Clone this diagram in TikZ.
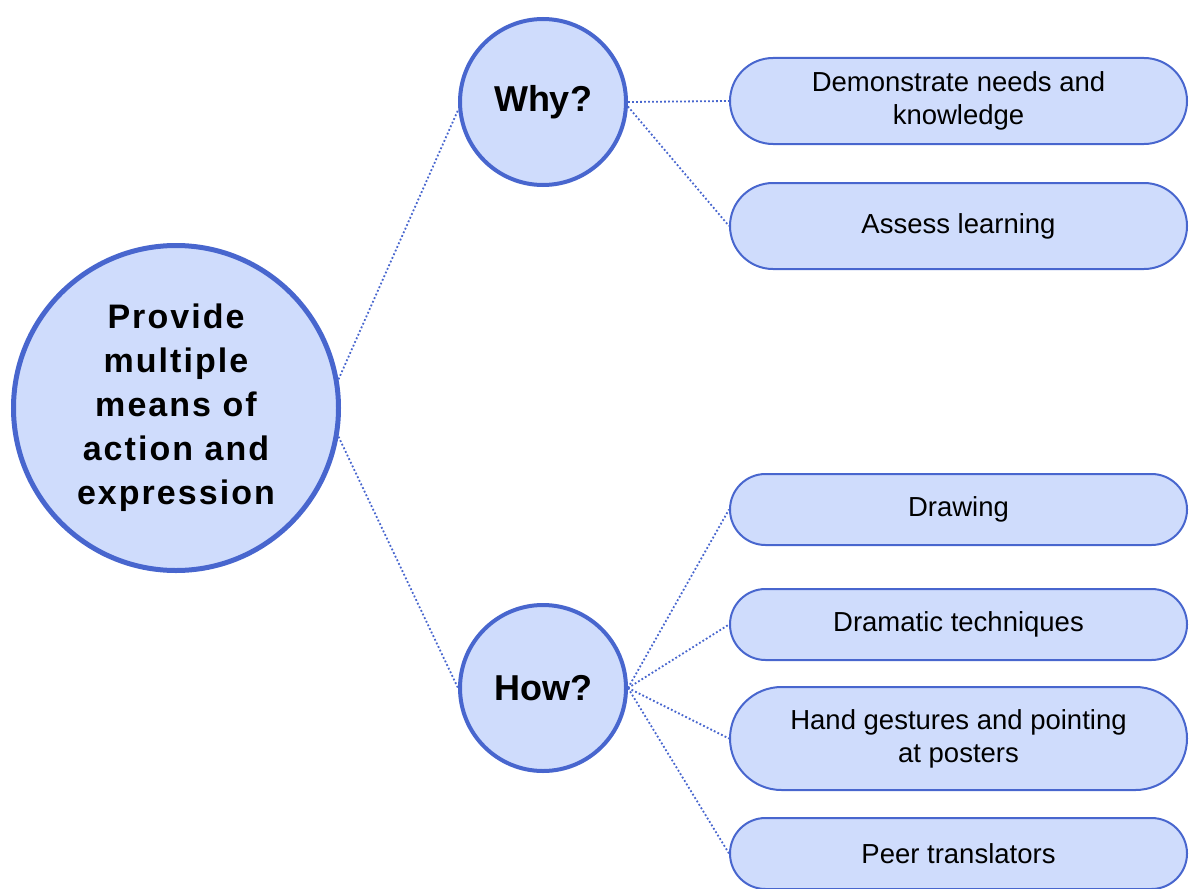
\documentclass[tikz,border=0pt]{standalone}
\usepackage{fontspec}
\setmainfont{Liberation Sans}
\newfontfamily\spacedbold[LetterSpace=6]{Liberation Sans}
\usetikzlibrary{shapes.misc}
\definecolor{fillblue}{RGB}{207,220,252}
\definecolor{edgeblue}{RGB}{72,102,206}
\tikzset{
  bigcirc/.style={circle, draw=edgeblue, fill=fillblue, line width=5pt, minimum size=325pt, inner sep=0pt, align=center,
    font=\spacedbold\bfseries\fontsize{34}{44}\selectfont},
  qcirc/.style={circle, draw=edgeblue, fill=fillblue, line width=4pt, minimum size=166pt, inner sep=0pt,
    font=\bfseries\fontsize{36}{42}\selectfont},
  pill/.style={rounded rectangle, draw=edgeblue, fill=fillblue, line width=2pt, minimum width=457pt, inner sep=0pt, align=center,
    font=\fontsize{27.5}{33}\selectfont},
  link/.style={draw=edgeblue, line width=1.8pt, dash pattern=on 1.8pt off 2.2pt}
}
\begin{document}
\begin{tikzpicture}[x=1pt,y=-1pt]
\useasboundingbox (0,0) rectangle (1190,888);
\node[bigcirc] (main) at (176,408) {Provide\\multiple\\means of\\action and\\expression};
\node[qcirc] (why) at (543,102) {Why?};
\node[qcirc] (how) at (543,688) {How?};
\node[pill, minimum height=86pt] (d1) at (958.5,101) {Demonstrate needs and\\knowledge};
\node[pill, minimum height=86pt] (d2) at (958.5,226) {Assess learning};
\node[pill, minimum height=71pt] (h1) at (958.5,509.5) {Drawing};
\node[pill, minimum height=71pt] (h2) at (958.5,624.5) {Dramatic techniques};
\node[pill, minimum height=103pt] (h3) at (958.5,738.5) {Hand gestures and pointing\\at posters};
\node[pill, minimum height=71pt] (h4) at (958.5,853.5) {Peer translators};
\draw[link] (main.10) -- (why.185);
\draw[link] (main.-10) -- (how.west);
\draw[link] (why.east) -- (d1.west);
\draw[link] (why.-3) -- (d2.west);
\draw[link] (how.east) -- (h1.west);
\draw[link] (how.east) -- (h2.west);
\draw[link] (how.east) -- (h3.west);
\draw[link] (how.east) -- (h4.west);
\end{tikzpicture}
\end{document}
